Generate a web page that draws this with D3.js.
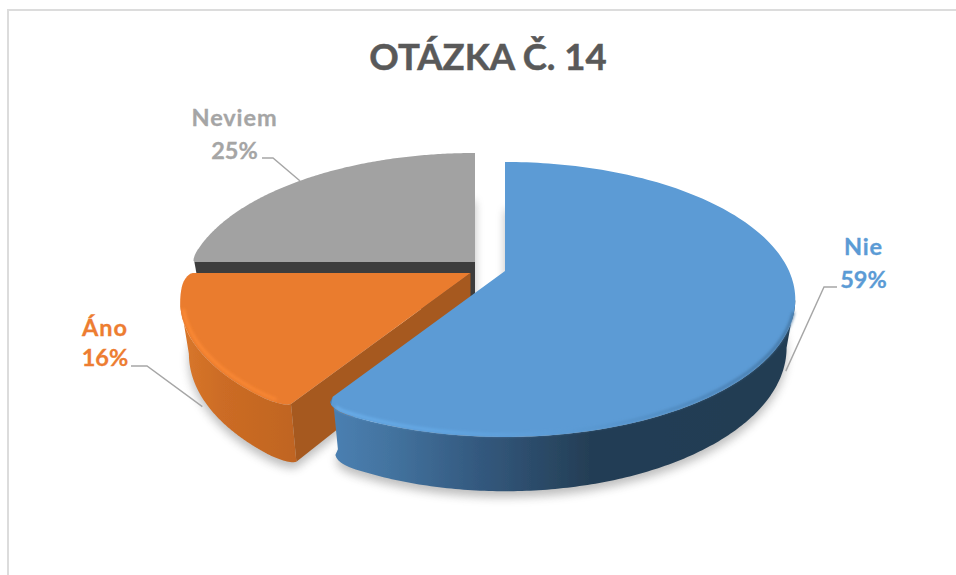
<!DOCTYPE html>
<html><head><meta charset="utf-8">
<script src="https://cdn.jsdelivr.net/npm/d3@7"></script>
<style>html,body{margin:0;padding:0;background:#fff}svg{display:block}text{font-family:Lato,"Open Sans",sans-serif;font-weight:700}</style>
</head><body><div id="chart"></div>
<script>
// --- data ---
const chartTitle = "OTÁZKA Č. 14";
const categories = ["Nie", "Áno", "Neviem"];
const shares = [59, 16, 25];
// --- style and layout ---
const labelColors = ["#5b9bd5", "#ed7d31", "#a5a5a5"];
const faceColors = ["#5b9bd5", "#ea7c2f", "#a2a2a2"];
const wallColors = ["#3d6a94", "#a6591f", "#3d3d3d"];
const apexes = [[505,271,47],[470.5,273,51],[475,262,47]];
const labelBoxes = [[863.5,255,287.7],[105,336,366],[234.5,126,158.7]];
const elbows = [[[837,287],[824,287]],[[131,366],[147,366]],[[262,158],[273,158]]];
const softStart = [false,true,true], softEnd = [true,true,false];
const cornerDepth = [0.055,0.022,0.012];
const W=956,H=575,R=284,Hy=131.6,K=0.207,F=0.97,LEADER_DROP=58.75;

const svg=d3.select("#chart").append("svg").attr("width",W).attr("height",H);
const defs=svg.append("defs");
const blur=(id,s)=>defs.append("filter").attr("id",id).attr("x","-20%").attr("y","-20%").attr("width","140%").attr("height","140%")
  .append("feGaussianBlur").attr("stdDeviation",s);
blur("sh",5); blur("soft",1.5); blur("edge",0.45);
const grad=(id,x1,x2,stops)=>{const g=defs.append("linearGradient").attr("id",id).attr("gradientUnits","userSpaceOnUse")
  .attr("x1",x1).attr("x2",x2).attr("y1",0).attr("y2",0);
  stops.forEach(s=>g.append("stop").attr("offset",s[0]).attr("stop-color",s[1]));};
grad("blueWall",335,800,[[0,"#4a7fb1"],[0.12,"#43739f"],[0.3,"#345a80"],[0.55,"#243e55"],[1,"#233c52"]]);
grad("blueRim",335,800,[[0,"#6db2ee"],[0.25,"#64a9e6"],[0.5,"#5b9bd5"],[0.8,"#4a82b5"],[1,"#3f6f9a"]]);
grad("orangeWall",180,300,[[0,"#d9772b"],[0.35,"#cc6c25"],[1,"#bf6420"]]);
grad("orangeRim",180,300,[[0,"#ff8c36"],[1,"#f98733"]]);

// perspective projection of a point on the pie, plane 0 = top face, 1 = bottom face
function project(apex,a,r,plane){
  const u=Math.sin(a)*r, v=-Math.cos(a)*r, s=1/(1-K*v), f=plane?F:1;
  return [apex[0]+f*R*u*s, apex[1]+f*Hy*v*s+plane*apex[2]*s];
}
// outer radius with softened corners near the chosen ends of a slice
function rimRadius(a,d){
  const w=0.1, c=cornerDepth[d.index];
  let r=1;
  const bend=x=>{ if(x<w){const t=Math.max(0,1-x/w); r=Math.min(r,1-c*(1-Math.sqrt(1-t*t)));} };
  if(softStart[d.index]) bend(a-d.startAngle);
  if(softEnd[d.index]) bend(d.endAngle-a);
  return r;
}
const line=d3.line();
const angles=(a0,a1,n=160)=>d3.range(n+1).map(d3.scaleLinear().domain([0,n]).range([a0,a1]));
const rim=(d,a0,a1,plane)=>angles(a0,a1).map(a=>project(apexes[d.index],a,rimRadius(a,d),plane));
const outline=(d,plane)=>line([project(apexes[d.index],0,0,plane),...rim(d,d.startAngle,d.endAngle,plane)])+"Z";

const arcs=d3.pie().sort(null)(shares);

// frame
svg.append("path").attr("d",`M8,${H}V10H${W}`).attr("fill","none").attr("stroke","#dcdcdc").attr("stroke-width",2);

// title
svg.append("text").attr("x",488).attr("y",70).attr("text-anchor","middle").attr("font-size",36.5).attr("fill","#595959")
  .attr("stroke","#595959").attr("stroke-width",0.5).text(chartTitle);

// shadows
svg.append("g").attr("filter","url(#sh)").attr("opacity",0.38).attr("transform","translate(0,6)")
  .selectAll("path").data(arcs).join("path").attr("fill","#555").attr("d",d=>outline(d,1));

// the wall silhouette leaves the rim where the projected outline is widest
const tangent=Math.acos(-K);
const frontStart=d=>d.index===0?tangent:d.startAngle;
const frontEnd=d=>d.index===1?2*Math.PI-tangent:d.endAngle;
[arcs[2],arcs[1],arcs[0]].forEach(d=>{
  const i=d.index, g=svg.append("g").attr("class","slice");
  if(i===2){
    g.append("path").attr("d",outline(d,1)).attr("fill",wallColors[2]);
    const r=rimRadius(d.startAngle,d);
    g.append("path").attr("d",line([project(apexes[2],0,0,0),project(apexes[2],d.startAngle,r,0),project(apexes[2],d.startAngle,r,1),project(apexes[2],0,0,1)])+"Z").attr("fill",wallColors[2]);
  } else {
    if(i===1){
      // cut face seen from the front
      const a=d.startAngle,r=rimRadius(a,d);
      g.append("path").attr("fill",wallColors[1]).attr("d",line([project(apexes[1],0,0,0),project(apexes[1],a,r,0),project(apexes[1],a,r,1),project(apexes[1],0,0,1)])+"Z");
    }
    const top=rim(d,frontStart(d),frontEnd(d),0), bot=rim(d,frontStart(d),frontEnd(d),1).reverse();
    g.append("path").attr("d",d3.line().curve(d3.curveLinearClosed)([...top,...bot]))
      .attr("fill",i===0?"url(#blueWall)":"url(#orangeWall)").attr("filter","url(#edge)");
  }
  g.append("path").attr("d",outline(d,0)).attr("fill",faceColors[i]).attr("filter","url(#edge)");
  if(i!==2){
    const arc=(i===0?rim(d,Math.PI*0.6,d.endAngle-0.05,0):rim(d,d.startAngle+0.05,d.endAngle-0.28,0)).map(p=>[p[0]+(i===1?2.5:0),p[1]-2.5]);
    g.append("path").attr("d",line(arc)).attr("fill","none").attr("stroke-width",2.6)
      .attr("stroke",i===0?"url(#blueRim)":"url(#orangeRim)").attr("filter","url(#soft)");
  }
});

// leader lines
const anchor=d=>{
  const m=(d.startAngle+d.endAngle)/2, i=d.index;
  if(i===2) return project(apexes[i],m,1,0);
  const p=project(apexes[i],m,1,1), s=1/(1+K*Math.cos(m));
  return [p[0],p[1]+(LEADER_DROP-apexes[i][2])*s];
};
svg.append("g").selectAll("path").data(arcs).join("path").attr("fill","none").attr("stroke","#a6a6a6").attr("stroke-width",1.4)
  .attr("d",d=>line([...elbows[d.index],anchor(d)]));

// labels
arcs.forEach(d=>{
  const [x,y1,y2]=labelBoxes[d.index];
  const t=svg.append("g").attr("text-anchor","middle").attr("font-size",23.5).attr("fill",labelColors[d.index])
    .attr("stroke",labelColors[d.index]).attr("stroke-width",0.3);
  t.append("text").attr("x",x).attr("y",y1).attr("letter-spacing",0.9).text(categories[d.index]);
  t.append("text").attr("x",x).attr("y",y2).text(shares[d.index]+"%");
});
</script></body></html>
